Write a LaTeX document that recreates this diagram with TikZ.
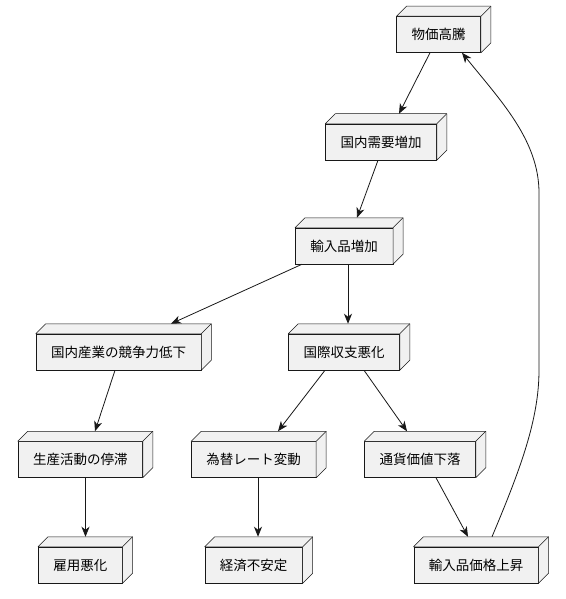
\documentclass[tikz,border=0pt]{standalone}
\usepackage{fontspec}
\newfontfamily\cjk{Noto Sans CJK JP}
\usetikzlibrary{arrows.meta}
\definecolor{boxfill}{HTML}{F1F1F1}
\definecolor{ink}{HTML}{181818}
\tikzset{
  dnode/.style={draw=ink, fill=boxfill, line width=0.5pt, rectangle,
    minimum height=36pt, inner xsep=15pt, inner ysep=0pt,
    font=\cjk\fontsize{13.5}{16}\selectfont, text=black},
  face/.style={draw=ink, fill=boxfill, line width=0.5pt, line join=round},
  arr/.style={draw=ink, line width=0.8pt,
    -{Stealth[length=10pt,width=8pt,inset=3pt]}}
}
\newcommand{\threed}[1]{%
  \filldraw[face] (#1.north west) -- ++(10,-10) -| ([shift={(10pt,10pt)}]#1.south east)
    -- (#1.south east) -- (#1.north east) -- cycle;
  \draw[face] (#1.north east) -- ++(10,-10);
}
\begin{document}
\begin{tikzpicture}[x=1pt,y=-1pt]
\useasboundingbox[fill=white] (0,0) rectangle (565,599);
\node[dnode] (A) at (438.7,34.5) {物価高騰};
\node[dnode] (B) at (381,142) {国内需要増加};
\node[dnode] (C) at (344,246) {輸入品増加};
\node[dnode] (D) at (118.5,352) {国内産業の競争力低下};
\node[dnode] (E) at (344,352) {国際収支悪化};
\node[dnode] (F) at (80.3,459.5) {生産活動の停滞};
\node[dnode] (G) at (253.7,459.5) {為替レート変動};
\node[dnode] (H) at (420,459.5) {通貨価値下落};
\node[dnode] (I) at (80.3,565) {雇用悪化};
\node[dnode] (J) at (253.7,565) {経済不安定};
\node[dnode] (K) at (476,565) {輸入品価格上昇};
\foreach \n in {A,B,C,D,E,F,G,H,I,J,K} {\threed{\n}}

\draw[arr] ([xshift=-8.7pt]A.south) -- ([xshift=18pt,yshift=10pt]B.north);
\draw[arr] ([xshift=-3pt]B.south) -- ([xshift=13pt,yshift=10pt]C.north);
\draw[arr] ([xshift=-42pt]C.south) -- ([xshift=52.5pt,yshift=10pt]D.north);
\draw[arr] ([xshift=4pt]C.south) -- ([xshift=4pt,yshift=10pt]E.north);
\draw[arr] ([xshift=-3.5pt]D.south) -- ([xshift=14.7pt,yshift=10pt]F.north);
\draw[arr] ([xshift=-19pt]E.south) -- ([xshift=24.3pt,yshift=10pt]G.north);
\draw[arr] ([xshift=20pt]E.south) -- ([xshift=-13pt,yshift=10pt]H.north);
\draw[arr] ([xshift=5.2pt]F.south) -- ([xshift=5.2pt,yshift=10pt]I.north);
\draw[arr] ([xshift=4.3pt]G.south) -- ([xshift=4.3pt,yshift=10pt]J.north);
\draw[arr] ([xshift=16pt]H.south) -- ([xshift=-8pt,yshift=10pt]K.north);
\draw[arr] ([xshift=16pt,yshift=10pt]K.north) .. controls (520,470) and (539,420) .. (539,370)
   -- (539,193) .. controls (539,140) and (500,100) .. ([xshift=23.3pt]A.south);
\end{tikzpicture}
\end{document}
